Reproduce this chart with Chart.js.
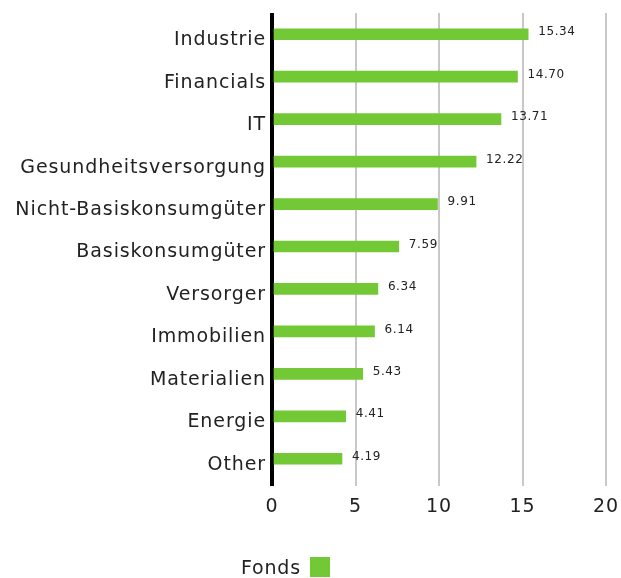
<!DOCTYPE html>
<html>
<head>
<meta charset="utf-8">
<script src="https://cdn.jsdelivr.net/npm/chart.js@4"></script>
<style>
  html, body { margin: 0; padding: 0; background: #fff; }
  #wrap { position: relative; width: 621px; height: 578px; }
  #legend { position: absolute; left: 241px; top: 556px; display: flex; align-items: center;
            font-family: 'DejaVu Sans', sans-serif; font-size: 19px; letter-spacing: 0.8px; color: #222; }
  #legend span.box { display: inline-block; width: 20px; height: 20px; margin-left: 9px; }
</style>
</head>
<body>
<div id="wrap">
  <canvas id="chart" width="621" height="578"></canvas>
  <div id="legend"></div>
</div>
<script>
// --- dados ---
const categorias = ['Industrie', 'Financials', 'IT', 'Gesundheitsversorgung', 'Nicht-Basiskonsumgüter',
  'Basiskonsumgüter', 'Versorger', 'Immobilien', 'Materialien', 'Energie', 'Other'];
const fonds = [15.34, 14.70, 13.71, 12.22, 9.91, 7.59, 6.34, 6.14, 5.43, 4.41, 4.19];
const serieNome = 'Fonds';
const xTicks = [0, 5, 10, 15, 20];

const verde = '#73c935';
const fonte = "'DejaVu Sans', sans-serif";

// espaçamento entre letras (a fonte original é mais larga)
const espacamento = {
  id: 'espacamento',
  beforeDraw(chart) { chart.ctx.letterSpacing = '0.9px'; }
};

// rótulos de valor na ponta de cada barra
const valorLabels = {
  id: 'valorLabels',
  afterDatasetsDraw(chart) {
    const ctx = chart.ctx;
    const meta = chart.getDatasetMeta(0);
    ctx.save();
    ctx.letterSpacing = '0.6px';
    ctx.font = '12px ' + fonte;
    ctx.fillStyle = '#222';
    ctx.textBaseline = 'middle';
    meta.data.forEach((bar, i) => {
      ctx.fillText(fonds[i].toFixed(2), bar.x + 10, bar.y - 2);
    });
    ctx.restore();
  }
};

new Chart(document.getElementById('chart'), {
  type: 'bar',
  data: {
    labels: categorias,
    datasets: [{
      label: serieNome,
      data: fonds,
      backgroundColor: verde,
      barThickness: 11,
      borderSkipped: false
    }]
  },
  options: {
    indexAxis: 'y',
    responsive: false,
    animation: false,
    layout: { padding: { top: 13, right: 15, bottom: 58, left: 0 } },
    plugins: { legend: { display: false }, tooltip: { enabled: false } },
    scales: {
      x: {
        min: 0, max: 20,
        afterBuildTicks: s => { s.ticks = xTicks.map(v => ({ value: v })); },
        afterFit: s => { s.height = 40; s.paddingLeft = 0; s.paddingRight = 0; },
        border: { display: false },
        grid: {
          color: c => c.tick && c.tick.value === 0 ? '#000' : '#c8c8c8',
          lineWidth: c => c.tick && c.tick.value === 0 ? 4 : 2,
          tickLength: 6,
          drawTicks: true
        },
        ticks: { color: '#222', font: { family: fonte, size: 19 }, padding: 10 }
      },
      y: {
        afterFit: s => { s.width = 272; s.paddingTop = 0; s.paddingBottom = 0; },
        border: { display: false },
        grid: { display: false, drawTicks: false },
        ticks: { color: '#222', font: { family: fonte, size: 19 }, padding: 6, labelOffset: 6 }
      }
    }
  },
  plugins: [espacamento, valorLabels]
});

// legenda (texto antes da caixa)
const leg = document.getElementById('legend');
leg.innerHTML = '<span>' + serieNome + '</span><span class="box" style="background:' + verde + '"></span>';
</script>
</body>
</html>
